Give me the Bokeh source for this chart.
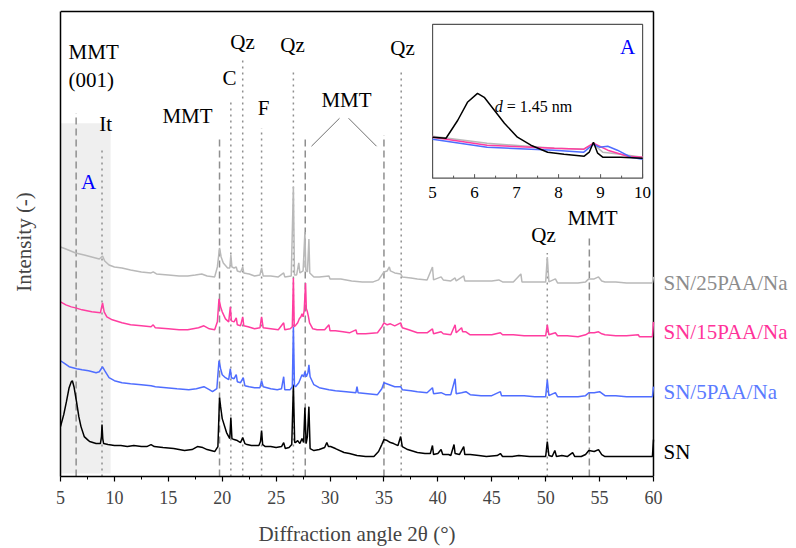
from bokeh.plotting import figure
from bokeh.models import Range1d, FixedTicker, LinearAxis
from bokeh.embed import file_html
from bokeh.resources import INLINE
from bokeh.core.properties import value

# ---------------- data (2theta in degrees, intensity in arbitrary stacked units) ----------------
SN_x = [5.0, 5.3, 5.55, 5.8, 6.0, 6.1, 6.25, 6.5, 6.7, 6.9, 7.2, 7.5, 7.7, 8.0, 8.3, 8.7, 8.8, 8.85, 8.92, 9.0,
        9.4, 10.0, 10.6, 11.2, 11.8, 12.5, 13.0, 13.4, 13.7, 14.5, 15.5, 16.5, 17.2, 17.7, 18.2, 18.6, 19.3, 19.6,
        19.75, 19.85, 20.0, 20.4, 20.7, 20.8, 20.9, 21.1, 21.4, 21.7, 21.9, 22.1, 22.3, 22.7, 23.0, 23.4, 23.55,
        23.65, 23.75, 24.0, 24.5, 25.0, 25.5, 25.7, 25.85, 26.2, 26.45, 26.6, 26.72, 26.8, 27.0, 27.2, 27.4, 27.55,
        27.67, 27.78, 27.9, 28.04, 28.15, 28.5, 29.0, 29.5, 29.7, 29.85, 30.05, 30.5, 31.3, 31.8, 32.5, 33.3, 34.07,
        34.5, 34.8, 35.0, 35.3, 35.6, 35.9, 36.3, 36.55, 36.7, 37.2, 38.1, 38.8, 39.3, 39.5, 39.6, 40.0, 40.3, 40.45,
        41.0, 41.2, 41.5, 41.6, 42.0, 42.4, 42.5, 43.0, 43.8, 44.5, 45.5, 45.8, 46.0, 46.9, 47.5, 48.5, 49.2, 50.0,
        50.15, 50.3, 50.6, 50.85, 51.0, 51.5, 52.0, 52.5, 52.7, 53.3, 53.7, 54.0, 54.5, 54.9, 55.2, 55.5, 56.5, 57.5,
        58.5, 59.5, 59.9, 60.0]
SN_y = [50, 62, 75, 89, 95, 96, 90, 74, 60, 50, 40, 37, 35, 34, 33, 33, 40, 52, 38, 33,
        32, 31, 31, 30, 31, 30, 30, 32, 30, 29, 28, 26, 27, 30, 29, 27, 25, 30,
        79, 70, 58, 44, 38, 59, 38, 37, 36, 34, 39, 33, 32, 31, 31, 31, 35,
        46, 32, 30, 30, 29, 30, 34, 28, 29, 32, 92, 34, 34, 36, 33, 38, 34,
        69, 33, 40, 70, 28, 26, 27, 29, 34, 30, 30, 28, 24, 23, 21, 20, 20,
        25, 32, 37, 36, 34, 33, 31, 40, 30, 27, 24, 23, 23, 31, 22, 23, 27, 22,
        22, 21, 32, 23, 22, 30, 22, 22, 21, 20, 21, 23, 20, 20, 21, 20, 20, 20,
        35, 21, 20, 26, 20, 21, 20, 24, 20, 20, 22, 26, 25, 27, 22, 20, 20, 20,
        20, 20, 20, 37]

P5_x = [5.0, 5.4, 5.8, 6.5, 7.0, 7.6, 8.3, 8.6, 8.9, 9.1, 9.5, 10.0, 10.7, 11.5, 12.5, 13.4, 13.8, 14.8, 15.8,
        16.9, 17.6, 18.3, 18.8, 19.1, 19.5, 19.7, 19.85, 20.0, 20.3, 20.6, 20.75, 20.85, 21.1, 21.3, 21.4, 21.7,
        21.95, 22.1, 22.5, 23.0, 23.5, 23.65, 23.8, 24.5, 25.1, 25.5, 25.7, 25.8, 26.3, 26.5, 26.6, 26.7, 26.8,
        27.1, 27.4, 27.55, 27.67, 27.8, 27.95, 28.04, 28.15, 28.5, 29.0, 29.9, 30.5, 31.5, 32.4, 32.5, 32.6, 33.5,
        34.4, 34.8, 35.0, 35.5, 36.0, 36.55, 36.7, 37.5, 38.1, 39.0, 39.5, 39.6, 40.3, 40.7, 41.2, 41.6, 41.7,
        42.2, 42.6, 43.0, 44.0, 45.0, 45.8, 45.9, 47.0, 48.0, 49.0, 50.0, 50.15, 50.3, 50.9, 51.1, 52.0, 53.0,
        53.7, 54.0, 54.5, 55.0, 55.5, 56.5, 57.5, 58.5, 59.9, 60.0]
P5_y = [116, 113, 110, 108, 107, 106, 104, 105, 110, 106, 99, 96, 94, 93, 92, 91, 90, 89, 88,
        87, 88, 90, 87, 85, 88, 116, 108, 102, 99, 97, 108, 99, 98, 102, 95, 94,
        99, 91, 90, 89, 89, 96, 90, 88, 87, 88, 100, 87, 87, 90, 150, 91, 90,
        94, 102, 100, 105, 100, 104, 112, 100, 92, 89, 87, 86, 85, 84, 90, 84, 83,
        82, 88, 94, 92, 90, 90, 87, 86, 85, 84, 89, 83, 84, 82, 82, 98, 83,
        84, 85, 82, 81, 81, 85, 81, 81, 81, 80, 80, 97, 81, 84, 80, 80, 80,
        81, 84, 84, 85, 81, 81, 80, 80, 80, 90]

P15_x = [5.0, 5.5, 6.0, 6.4, 7.0, 7.9, 8.7, 8.9, 9.05, 9.3, 9.8, 10.7, 11.5, 12.5, 13.4, 13.6, 13.8, 15.0, 16.0,
         16.8, 17.8, 18.3, 18.8, 19.3, 19.55, 19.7, 19.85, 20.0, 20.3, 20.6, 20.75, 20.85, 21.1, 21.3, 21.4, 21.7,
         21.9, 22.0, 22.4, 23.0, 23.5, 23.65, 23.8, 24.5, 25.2, 25.7, 25.8, 26.3, 26.5, 26.6, 26.68, 26.85, 27.0,
         27.15, 27.3, 27.4, 27.5, 27.6, 27.73, 27.8, 27.9, 28.0, 28.1, 28.4, 28.8, 29.5, 29.9, 30.0, 30.5, 31.2,
         31.8, 32.4, 32.5, 33.3, 34.4, 34.8, 35.0, 35.3, 35.6, 36.0, 36.55, 36.7, 37.3, 38.1, 39.0, 39.5, 39.6,
         40.3, 40.5, 41.2, 41.6, 41.7, 42.2, 42.3, 42.6, 43.0, 44.0, 45.0, 45.8, 46.0, 47.0, 48.0, 49.0, 50.0,
         50.15, 50.3, 50.9, 51.1, 52.0, 53.0, 53.7, 54.0, 54.5, 54.9, 55.2, 55.5, 56.5, 57.5, 58.6, 58.7, 59.9,
         60.0]
P15_y = [175, 172, 170, 169, 167, 165, 164, 174, 165, 160, 157, 154, 152, 151, 150, 152, 149, 148, 147,
         147, 149, 151, 148, 147, 155, 178, 170, 165, 158, 155, 170, 156, 155, 159, 152, 151,
         160, 151, 150, 148, 149, 160, 149, 148, 147, 154, 147, 148, 150, 199, 150, 152, 154,
         158, 160, 163, 160, 166, 194, 168, 165, 160, 154, 148, 147, 147, 152, 146, 146, 145,
         144, 147, 143, 143, 144, 150, 154, 152, 153, 151, 154, 149, 147, 144, 144, 148, 143,
         145, 143, 142, 152, 144, 149, 145, 145, 142, 142, 142, 144, 142, 142, 141, 141, 141,
         152, 142, 144, 141, 141, 140, 142, 144, 144, 145, 143, 142, 141, 141, 142, 140, 140,
         155]

P25_x = [5.0, 5.5, 6.4, 7.2, 7.9, 8.6, 8.9, 9.1, 9.5, 10.0, 10.7, 11.5, 12.5, 13.4, 13.6, 13.9, 15.0, 16.0, 16.8,
         17.5, 18.1, 18.6, 19.3, 19.55, 19.75, 19.9, 20.1, 20.5, 20.7, 20.8, 20.9, 21.1, 21.3, 21.4, 21.7, 21.9,
         22.0, 22.5, 23.0, 23.5, 23.65, 23.8, 24.5, 25.2, 25.7, 25.8, 26.4, 26.6, 26.7, 26.9, 27.1, 27.2, 27.5,
         27.67, 27.75, 27.9, 28.04, 28.12, 28.5, 29.0, 29.9, 30.0, 31.0, 32.0, 33.0, 34.0, 34.5, 35.0, 35.3, 35.5,
         35.6, 36.0, 36.55, 36.7, 37.5, 38.1, 39.0, 39.5, 39.6, 40.3, 40.5, 41.2, 41.6, 41.7, 42.4, 42.5, 43.0,
         44.0, 45.0, 45.65, 46.0, 47.0, 47.7, 47.8, 48.5, 49.5, 50.0, 50.15, 50.3, 50.9, 51.1, 52.0, 53.0, 53.7,
         54.0, 54.5, 54.9, 55.2, 55.5, 56.5, 57.5, 58.5, 59.9, 60.0]
P25_y = [230, 228, 224, 222, 220, 218, 221, 216, 212, 210, 209, 207, 205, 204, 205, 203, 202, 201, 201,
         202, 203, 201, 200, 210, 229, 220, 214, 209, 209, 222, 210, 209, 210, 206, 205, 210,
         204, 203, 201, 202, 209, 201, 201, 200, 204, 200, 201, 290, 202, 202, 214, 204, 206,
         245, 207, 205, 238, 204, 200, 200, 201, 198, 198, 196, 195, 195, 197, 205, 206, 210,
         206, 204, 203, 200, 199, 198, 197, 210, 197, 200, 197, 196, 199, 196, 201, 196, 196,
         196, 196, 197, 195, 195, 203, 195, 195, 195, 195, 220, 195, 198, 194, 194, 194, 195,
         198, 198, 200, 196, 195, 195, 194, 194, 194, 200]

SERIES_NAMES = ["SN", "SN/5PAA/Na", "SN/15PAA/Na", "SN/25PAA/Na"]
SERIES_END = [25, 85, 145, 194]

# inset (zoom of 5-10 degrees)
IN_SN_x = [5.0, 5.32, 5.6, 5.83, 6.07, 6.23, 6.47, 6.71, 7.02, 7.34, 7.74, 8.13, 8.61, 8.73, 8.83, 8.93, 9.05, 9.48, 10.0]
IN_SN_y = [41, 40, 58, 76, 85, 81, 68, 55, 41, 33, 26, 24, 22, 26, 36, 25, 21, 21, 20]
IN_P25_x = [5.0, 6.3, 7.9, 8.6, 8.83, 9.05, 9.48, 10.0]
IN_P25_y = [42, 35, 30, 29, 34, 26, 24, 21]
IN_P15_x = [5.0, 6.3, 7.9, 8.6, 8.83, 9.17, 9.64, 10.0]
IN_P15_y = [41, 33, 30, 29, 35, 28, 22, 21]
IN_P5_x = [5.0, 6.3, 7.9, 8.6, 8.83, 8.97, 9.17, 9.4, 9.72, 10.0]
IN_P5_y = [39, 31, 28, 26, 34, 31, 32, 28, 21, 19]
IN_TICKS = [5, 6, 7, 8, 9, 10]

# reference lines
DASH_X = [6.45, 19.75, 27.7, 35.0, 54.05]
DASH_TOP = [364, 340, 341, 342, 239]
DOT_X = [8.85, 20.8, 21.9, 23.65, 26.6, 36.6, 50.15]
DOT_TOP = [329, 377, 417, 349, 407, 407, 224]

ANN_TEXT = ["MMT", "C", "Qz", "F", "Qz", "MMT", "Qz", "Qz", "MMT", "It"]
ANN_X = [16.78, 20.68, 21.88, 23.83, 26.52, 31.53, 36.72, 49.8, 54.35, 9.2]
ANN_Y = [361, 399, 435, 369, 432, 377, 429, 242, 259, 353]

FONT = "Liberation Serif"
COLORS = ["#000000", "#4f6dff", "#ff3da0", "#b9b9b9"]
LABEL_COLORS = ["#000000", "#5b7bff", "#ff3399", "#8c8c8c"]

X0, X1, YTOP = 5, 60, 466

p = figure(width=796, height=548, output_backend="svg", toolbar_location=None,
           x_range=Range1d(5, 73.264), y_range=Range1d(0, 470),
           min_border_left=60, min_border_right=0, min_border_top=7, min_border_bottom=71)
p.grid.visible = False
p.outline_line_color = None
p.background_fill_color = "white"
p.border_fill_color = "white"

xa = p.xaxis[0]
xa.bounds = (X0, X1)
xa.ticker = FixedTicker(ticks=list(range(5, 61, 5)), minor_ticks=[7.5 + 5 * i for i in range(11)])
xa.major_tick_out = 5
xa.major_tick_in = 0
xa.minor_tick_out = 3
xa.minor_tick_in = 0
xa.axis_line_width = 1.5
xa.major_tick_line_width = 1.2
xa.major_label_text_font = FONT
xa.major_label_text_font_size = "18px"
xa.major_label_standoff = 9
xa.major_label_text_line_height = 1.0

# x-axis title, centred under the 5-60 span
xt = LinearAxis(ticker=FixedTicker(ticks=[32.5]),
                major_label_overrides={32.5: "Diffraction angle 2θ (°)"},
                axis_line_color=None, major_tick_line_color=None, minor_tick_line_color=None,
                major_tick_out=0, minor_tick_out=0, major_label_standoff=15,
                major_label_text_font=FONT, major_label_text_font_size="21px",
                major_label_text_line_height=1.0)
p.add_layout(xt, "below")

ya = p.yaxis[0]
ya.bounds = (0, YTOP)
ya.ticker = FixedTicker(ticks=[])
ya.axis_line_color = "black"
ya.axis_line_width = 1.5
ya.major_tick_out = 0
ya.minor_tick_out = 0
ya.axis_label = "Intensity (-)"
ya.axis_label_text_font = FONT
ya.axis_label_text_font_size = "21px"
ya.axis_label_text_font_style = "normal"
ya.axis_label_standoff = 25

# top and right border of the plot box
p.segment(x0=[X0, X1], y0=[YTOP, 0], x1=[X1, X1], y1=[YTOP, YTOP], line_color="black", line_width=1.5)

# shaded region A
p.quad(left=5, right=9.65, bottom=3, top=354, fill_color="#efefef", line_color=None)

# reference lines
p.segment(x0=DASH_X, x1=DASH_X, y0=[0] * len(DASH_X), y1=DASH_TOP, line_color="#8f8f8f",
          line_width=1.5, line_dash="7 4")
p.segment(x0=DOT_X, x1=DOT_X, y0=[0] * len(DOT_X), y1=DOT_TOP, line_color="#8f8f8f",
          line_width=1.5, line_dash="2 4")
p.segment(x0=[30.88, 31.72], y0=[359, 359], x1=[28.28, 34.31], y1=[331, 331],
          line_color="#707070", line_width=1)

# curves
for xs, ys, c in [(SN_x, SN_y, COLORS[0]), (P5_x, P5_y, COLORS[1]),
                  (P15_x, P15_y, COLORS[2]), (P25_x, P25_y, COLORS[3])]:
    p.line(xs, ys, line_color=c, line_width=1.5)

# annotations
p.text(x=ANN_X, y=ANN_Y, text=ANN_TEXT, text_font=value(FONT), text_font_size=value("21px"),
       text_align="center", text_baseline="middle", text_color="black")
p.text(x=[5.75, 5.75], y=[425, 397], text=["MMT", "(001)"], text_font=value(FONT),
       text_font_size=value("21px"), text_align="left", text_baseline="middle", text_color="black")
p.text(x=[7.6], y=[295], text=["A"], text_font=value(FONT), text_font_size=value("21px"),
       text_align="center", text_baseline="middle", text_color="#0000ff")

# series labels on the right
p.text(x=[X1] * 4, y=SERIES_END, text=SERIES_NAMES, x_offset=10, text_font=value(FONT),
       text_font_size=value("21px"), text_color=LABEL_COLORS, text_align="left", text_baseline="middle")

# inset
ins = p.subplot(x_source=Range1d(5, 10), y_source=Range1d(0, 154),
                x_target=Range1d(39.51, 58.99), y_target=Range1d(299, 453))
ins.quad(left=[5], right=[10], bottom=[0], top=[154], fill_color="white", line_color="#555555",
         line_width=1.2)
ins.segment(x0=IN_TICKS, x1=IN_TICKS, y0=[0] * 6, y1=[4] * 6, line_color="#555555", line_width=1)
ins.segment(x0=[5.5, 6.5, 7.5, 8.5, 9.5], x1=[5.5, 6.5, 7.5, 8.5, 9.5], y0=[0] * 5, y1=[2.5] * 5,
            line_color="#555555", line_width=1)
ins.text(x=IN_TICKS, y=[-14] * 6, text=[str(t) for t in IN_TICKS], text_font=value(FONT),
         text_font_size=value("17px"), text_align="center", text_baseline="middle", text_color="black")
for xs, ys, c in [(IN_P25_x, IN_P25_y, COLORS[3]), (IN_P15_x, IN_P15_y, COLORS[2]),
                  (IN_P5_x, IN_P5_y, COLORS[1]), (IN_SN_x, IN_SN_y, COLORS[0])]:
    ins.line(xs, ys, line_color=c, line_width=1.5)
ins.text(x=[9.64], y=[131], text=["A"], text_font=value(FONT), text_font_size=value("21px"),
         text_align="center", text_baseline="middle", text_color="#0000ff")
ins.text(x=[6.48], y=[72], text=["d"], text_font=value(FONT), text_font_size=value("16px"),
         text_font_style="italic", text_align="left", text_baseline="middle", text_color="black")
ins.text(x=[6.48], y=[72], x_offset=12, text=["= 1.45 nm"], text_font=value(FONT),
         text_font_size=value("16px"), text_align="left", text_baseline="middle", text_color="black")

open("out.html", "w").write(file_html(p, INLINE))
